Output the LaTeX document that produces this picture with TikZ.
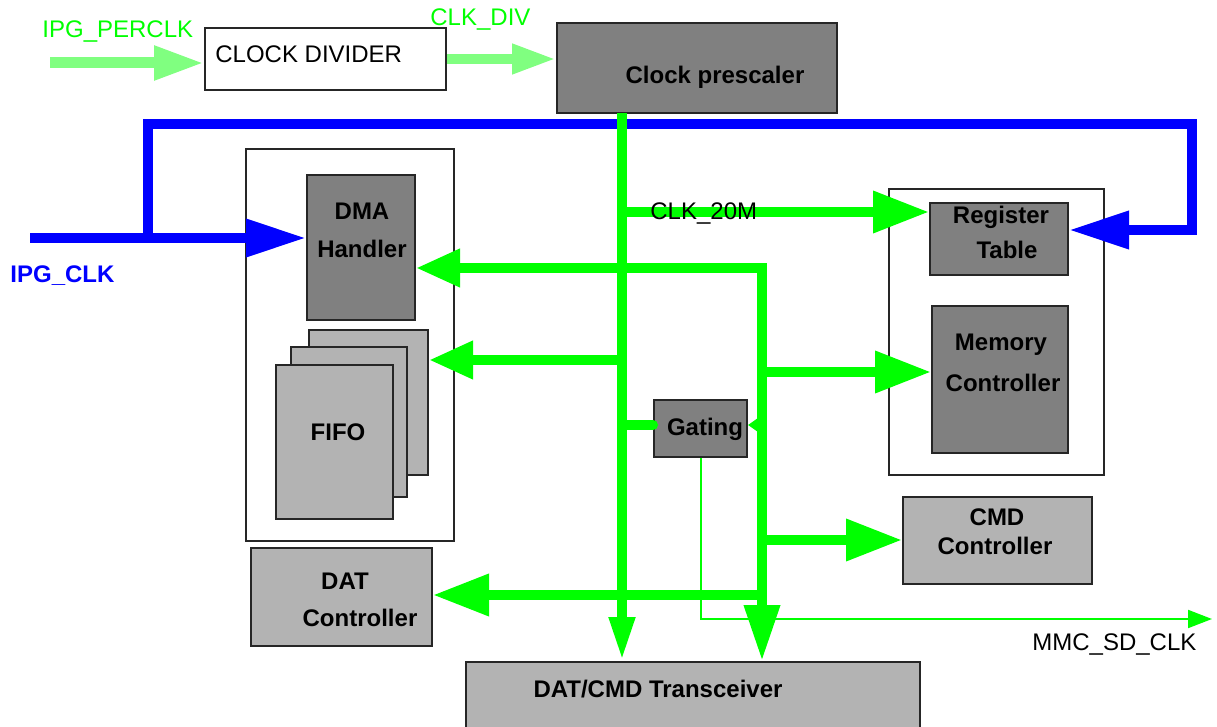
\documentclass[tikz,border=0pt]{standalone}
\usepackage{fontspec}
\setmainfont{Liberation Sans}
\usepackage{tikz}
\usetikzlibrary{arrows.meta, fit, positioning}
\definecolor{busgreen}{RGB}{0,255,0}
\definecolor{palegreen}{RGB}{128,255,128}
\definecolor{darkfill}{RGB}{128,128,128}
\definecolor{lightfill}{RGB}{179,179,179}
\tikzstyle{whitebox} = [draw=black!85, line width=1pt, fill=white, inner sep=0pt]
\tikzstyle{darkbox} = [whitebox, fill=darkfill]
\tikzstyle{lightbox} = [whitebox, fill=lightfill]
\tikzstyle{lbl} = [font=\bfseries\fontsize{12}{14}\selectfont, inner sep=0pt, anchor=base]
\tikzstyle{sig} = [font=\fontsize{12}{14}\selectfont, inner sep=0pt, anchor=base west]
\tikzstyle{gbus} = [busgreen, line width=5pt]
\tikzstyle{garrow} = [gbus, -{Triangle[length=28pt, width=20pt]}]
\tikzstyle{gshort} = [gbus, -{Triangle[length=22pt, width=18pt]}]
\tikzstyle{gdown} = [gbus, -{Triangle[length=22pt, width=12pt]}]
\tikzstyle{bbus} = [blue, line width=5pt]
\tikzstyle{barrow} = [bbus, -{Triangle[length=30pt, width=18pt]}]
\tikzstyle{parrow} = [palegreen, line width=5.5pt, -{Triangle[length=25pt, width=16pt]}]

\begin{document}
\begin{tikzpicture}[x=0.5pt, y=-0.5pt]
    \useasboundingbox (0,0) rectangle (1217,727);
    \node[whitebox, fit={(205,28) (446,90)}] (div) {};
    \node[darkbox, fit={(557,23) (837,113)}] (pre) {};
    \node[whitebox, fit={(246,149) (454,541)}] (dmagrp) {};
    \node[darkbox, fit={(307,175) (415,320)}] (dma) {};
    \node[lightbox, fit={(309,330) (428,475)}] (fifoc) {};
    \node[lightbox, fit={(291,347) (407,497)}] (fifob) {};
    \node[lightbox, fit={(276,365) (393,519)}] (fifoa) {};
    \node[lightbox, fit={(251,548) (432,646)}] (dat) {};
    \node[lightbox, fit={(466,662) (920,745)}] (trx) {};
    \node[whitebox, fit={(889,189) (1104,475)}] (ctlgrp) {};
    \node[darkbox, fit={(930,203) (1068,275)}] (reg) {};
    \node[darkbox, fit={(932,306) (1068,453)}] (mem) {};
    \node[lightbox, fit={(903,497) (1092,584)}] (cmd) {};
    \node[darkbox, fit={(654,400) (747,457)}] (gate) {};

    \coordinate (perin) at (50,63);
    \coordinate (clkin) at (30,238);
    \coordinate (clktap) at (148,238);
    \coordinate (clkloop) at (1192,124);
    \coordinate (v1) at (622,113);
    \coordinate (v2) at (762,268);
    \coordinate (t20) at (622,212);
    \coordinate (tfifo) at (622,360);
    \coordinate (tgl) at (622,425);
    \coordinate (tmem) at (762,372);
    \coordinate (tgr) at (762,425);
    \coordinate (tcmd) at (762,540);
    \coordinate (tdat) at (762,595);
    \coordinate (mmcout) at (1212,619);

    \draw[parrow] (perin) -- (perin -| div.west);
    \draw[parrow, line width=5pt, -{Triangle[length=22pt, width=14pt]}] (div.east) -- (div.east -| pre.west);

    \draw[barrow] (clkin) -- (clkin -| dma.west);
    \draw[barrow] (clktap) |- (clkloop) |- ([yshift=4.5pt]reg.east);

    \draw[gdown] (v1) -- (v1 |- trx.north);
    \draw[gbus, {Triangle[length=22pt, width=18pt]}-{Triangle[length=28pt, width=17pt]}] (v2 -| dma.east) -- (v2) -- (v2 |- trx.north);
    \draw[garrow] (t20) -- (t20 -| reg.west);
    \draw[gshort] (tfifo) -- (tfifo -| fifoc.east);
    \draw[garrow] (tmem) -- (tmem -| mem.west);
    \draw[garrow] (tcmd) -- (tcmd -| cmd.west);
    \draw[garrow] (tdat) -- (tdat -| dat.east);
    \draw[gbus, line cap=round] (tgl) -- (tgl -| gate.west);
    \draw[gbus, line width=3pt, -{Triangle[length=6pt, width=8pt]}] (tgr) -- (tgr -| gate.east);
    \draw[busgreen, line width=1pt, -{Triangle[length=12pt, width=9pt]}] (gate.south) |- (mmcout);

    \node[sig, text=busgreen] (perlbl) at (42,38) {IPG\_PERCLK};
    \node[sig, text=busgreen] (divlbl) at (430,26) {CLK\_DIV};
    \node[sig, text=blue, font=\bfseries\fontsize{12}{14}\selectfont] (clklbl) at (10,283) {IPG\_CLK};
    \node[sig] (c20lbl) at (650,220) {CLK\_20M};
    \node[sig] (mmclbl) at (1032,650) {MMC\_SD\_CLK};
    \node[sig] (divtxt) at (215,63) {CLOCK DIVIDER};

    \node[lbl] (pretxt) at (715,84) {Clock prescaler};
    \node[lbl] (dmatxt) at (362,220) {DMA};
    \node[lbl] (dmatxt2) at (362,258) {Handler};
    \node[lbl] (fifotxt) at (338,441) {FIFO};
    \node[lbl] (dattxt) at (345,589) {DAT};
    \node[lbl] (dattxt2) at (360,626) {Controller};
    \node[lbl] (trxtxt) at (658,697) {DAT/CMD Transceiver};
    \node[lbl] (regtxt) at (1001,224) {Register};
    \node[lbl] (regtxt2) at (1007,259) {Table};
    \node[lbl] (memtxt) at (1001,351) {Memory};
    \node[lbl] (memtxt2) at (1003,392) {Controller};
    \node[lbl] (cmdtxt) at (997,525) {CMD};
    \node[lbl] (cmdtxt2) at (995,554) {Controller};
    \node[lbl] (gatetxt) at (705,436) {Gating};
\end{tikzpicture}
\end{document}
